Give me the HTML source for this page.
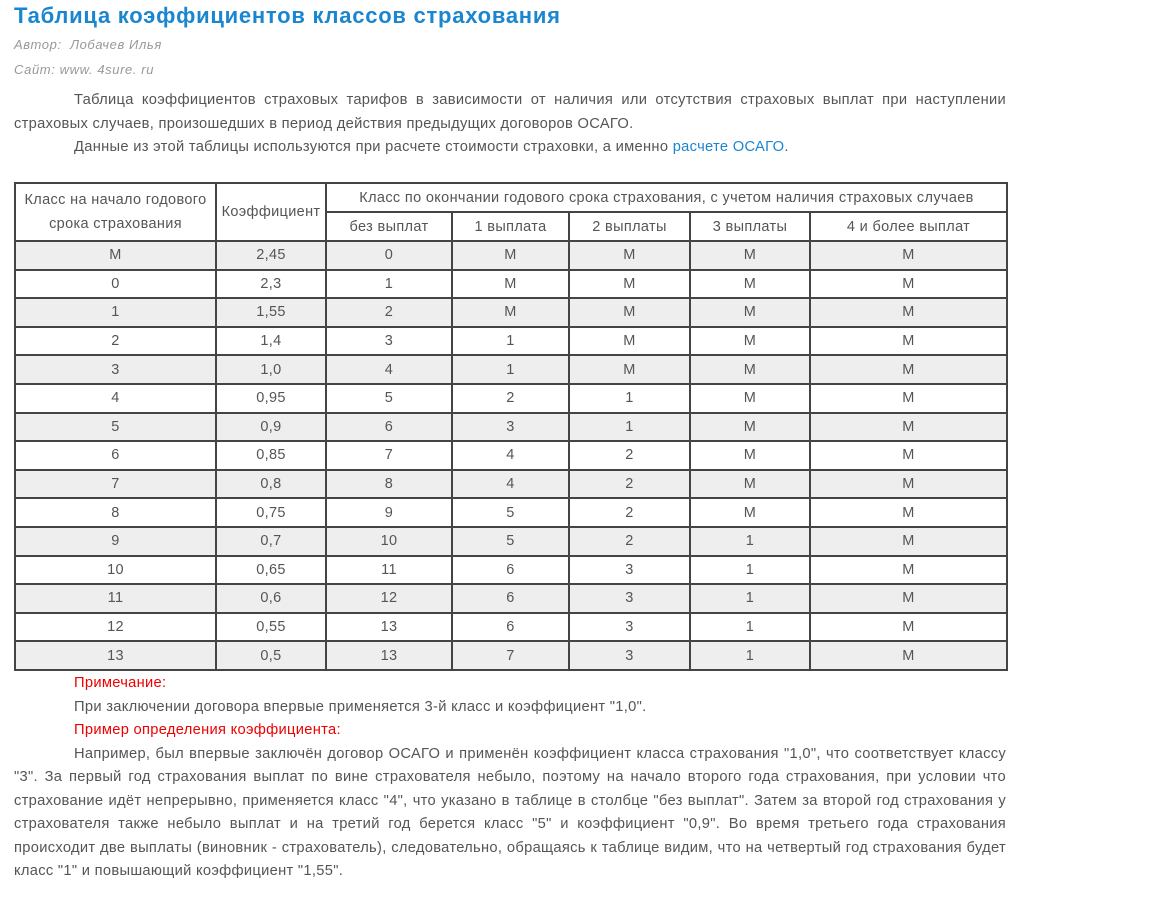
<!DOCTYPE html>
<html><head><meta charset="utf-8"><style>
body{margin:0;width:1152px;height:905px;background:#fff;font-family:"Liberation Sans",Arial,sans-serif;color:#555;position:relative;overflow:hidden}
.a{position:absolute;white-space:nowrap}
h1{position:absolute;left:14px;top:3px;margin:0;font-size:22px;font-weight:bold;color:#1a86cf;letter-spacing:0.75px}
.it{font-style:italic;color:#999;font-size:13px;letter-spacing:0.6px}
.blk{position:absolute;left:14px;width:992px;font-size:14.7px;line-height:23.5px;letter-spacing:0.3px}
.blk div{text-align:justify;text-indent:60px}
a{color:#1a86cf;text-decoration:none}
.red{color:#e00}
table{position:absolute;left:14px;top:182px;width:992px;border-collapse:collapse;font-size:14.5px;table-layout:fixed;letter-spacing:0.35px}
td{border:2px solid #444;text-align:center;padding:0;line-height:18px}
tbody tr{height:28.6px}
thead tr{height:29px}
tr.g td{background:#eee}
</style></head><body>
<h1>Таблица коэффициентов классов страхования</h1>
<div class="a it" style="left:14px;top:37px">Автор:&nbsp; Лобачев Илья</div>
<div class="a it" style="left:14px;top:62px">Сайт: www. 4sure. ru</div>
<div class="blk" style="top:89px"><div>Таблица коэффициентов страховых тарифов в зависимости от наличия или отсутствия страховых выплат при наступлении страховых случаев, произошедших в период действия предыдущих договоров ОСАГО.</div><div>Данные из этой таблицы используются при расчете стоимости страховки, а именно <a>расчете ОСАГО</a>.</div></div>
<table>
<colgroup><col style="width:201px"><col style="width:110px"><col style="width:126px"><col style="width:117px"><col style="width:121px"><col style="width:120px"><col style="width:197px"></colgroup>
<thead>
<tr><td rowspan="2" style="line-height:24px">Класс на начало годового срока страхования</td><td rowspan="2">Коэффициент</td><td colspan="5">Класс по окончании годового срока страхования, с учетом наличия страховых случаев</td></tr>
<tr><td>без выплат</td><td>1 выплата</td><td>2 выплаты</td><td>3 выплаты</td><td>4 и более выплат</td></tr>
</thead>
<tbody>
<tr class="g"><td>M</td><td>2,45</td><td>0</td><td>M</td><td>M</td><td>M</td><td>M</td></tr>
<tr><td>0</td><td>2,3</td><td>1</td><td>M</td><td>M</td><td>M</td><td>M</td></tr>
<tr class="g"><td>1</td><td>1,55</td><td>2</td><td>M</td><td>M</td><td>M</td><td>M</td></tr>
<tr><td>2</td><td>1,4</td><td>3</td><td>1</td><td>M</td><td>M</td><td>M</td></tr>
<tr class="g"><td>3</td><td>1,0</td><td>4</td><td>1</td><td>M</td><td>M</td><td>M</td></tr>
<tr><td>4</td><td>0,95</td><td>5</td><td>2</td><td>1</td><td>M</td><td>M</td></tr>
<tr class="g"><td>5</td><td>0,9</td><td>6</td><td>3</td><td>1</td><td>M</td><td>M</td></tr>
<tr><td>6</td><td>0,85</td><td>7</td><td>4</td><td>2</td><td>M</td><td>M</td></tr>
<tr class="g"><td>7</td><td>0,8</td><td>8</td><td>4</td><td>2</td><td>M</td><td>M</td></tr>
<tr><td>8</td><td>0,75</td><td>9</td><td>5</td><td>2</td><td>M</td><td>M</td></tr>
<tr class="g"><td>9</td><td>0,7</td><td>10</td><td>5</td><td>2</td><td>1</td><td>M</td></tr>
<tr><td>10</td><td>0,65</td><td>11</td><td>6</td><td>3</td><td>1</td><td>M</td></tr>
<tr class="g"><td>11</td><td>0,6</td><td>12</td><td>6</td><td>3</td><td>1</td><td>M</td></tr>
<tr><td>12</td><td>0,55</td><td>13</td><td>6</td><td>3</td><td>1</td><td>M</td></tr>
<tr class="g"><td>13</td><td>0,5</td><td>13</td><td>7</td><td>3</td><td>1</td><td>M</td></tr>
</tbody></table>
<div class="blk" style="top:672px"><div class="red">Примечание:</div><div>При заключении договора впервые применяется 3-й класс и коэффициент "1,0".</div><div class="red">Пример определения коэффициента:</div><div>Например, был впервые заключён договор ОСАГО и применён коэффициент класса страхования "1,0", что соответствует классу "3". За первый год страхования выплат по вине страхователя небыло, поэтому на начало второго года страхования, при условии что страхование идёт непрерывно, применяется класс "4", что указано в таблице в столбце "без выплат". Затем за второй год страхования у страхователя также небыло выплат и на третий год берется класс "5" и коэффициент "0,9". Во время третьего года страхования происходит две выплаты (виновник - страхователь), следовательно, обращаясь к таблице видим, что на четвертый год страхования будет класс "1" и повышающий коэффициент "1,55".</div></div>
</body></html>
